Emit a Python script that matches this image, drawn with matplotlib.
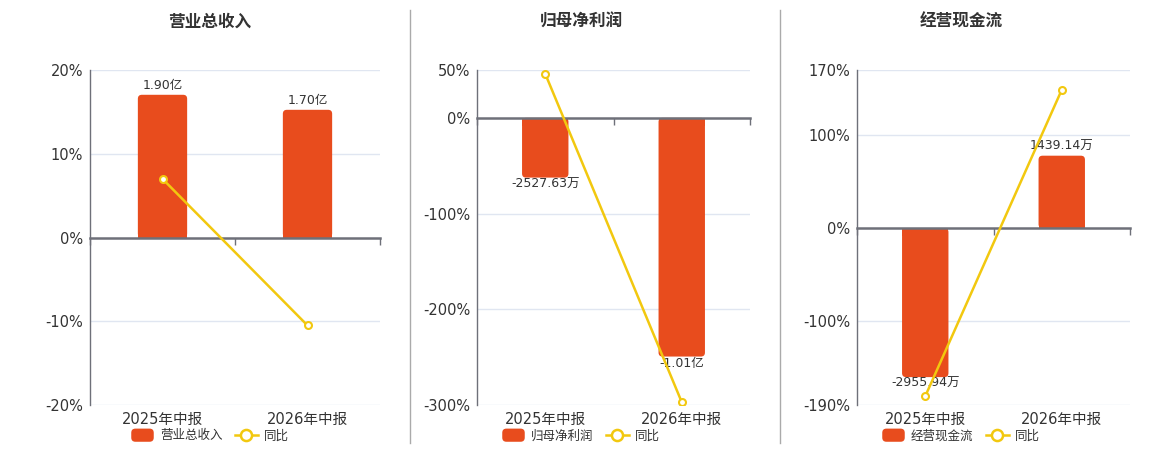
import matplotlib
matplotlib.use("Agg")
import matplotlib.pyplot as plt
from matplotlib.lines import Line2D
from matplotlib.patches import FancyBboxPatch
from matplotlib.legend_handler import HandlerPatch

plt.rcParams['font.family'] = ['DejaVu Sans', 'Noto Sans CJK SC']

categories = ["2025年中报", "2026年中报"]

titles = ["营业总收入", "归母净利润", "经营现金流"]

# bar values in 亿
revenue = [1.90, 1.70]
net_profit = [-0.252763, -1.01]
cash_flow = [-0.295594, 0.143914]

# bar labels as printed
revenue_labels = ["1.90亿", "1.70亿"]
net_profit_labels = ["-2527.63万", "-1.01亿"]
cash_flow_labels = ["-2955.94万", "1439.14万"]

# 同比 (%)
revenue_yoy = [7.0, -10.5]
net_profit_yoy = [46.0, -297.0]
cash_flow_yoy = [-180.6, 148.7]

# percent axis ticks
revenue_ticks = [-20, -10, 0, 10, 20]
net_profit_ticks = [-300, -200, -100, 0, 50]
cash_flow_ticks = [-190, -100, 0, 100, 170]

BAR_COLOR = "#e84c1d"
LINE_COLOR = "#f2c80f"
AXIS_COLOR = "#6e7079"
GRID_COLOR = "#e0e6f1"
TEXT_COLOR = "#333333"

panels = [
    dict(title=titles[0], bars=revenue, labels=revenue_labels, yoy=revenue_yoy,
         ticks=revenue_ticks, bar_top=2.23, rect=[90, 380], title_x=210),
    dict(title=titles[1], bars=net_profit, labels=net_profit_labels, yoy=net_profit_yoy,
         ticks=net_profit_ticks, bar_top=0.2025, rect=[477, 750], title_x=581),
    dict(title=titles[2], bars=cash_flow, labels=cash_flow_labels, yoy=cash_flow_yoy,
         ticks=cash_flow_ticks, bar_top=0.314, rect=[857, 1130], title_x=961),
]

W, H = 1160, 450
fig = plt.figure(figsize=(W / 100, H / 100), dpi=100)


class RoundRectHandler(HandlerPatch):
    def create_artists(self, legend, orig_handle, xdescent, ydescent, width, height, fontsize, trans):
        p = FancyBboxPatch((-xdescent, -ydescent - 1), width, height + 2,
                           boxstyle="round,pad=0,rounding_size=3",
                           fc=BAR_COLOR, ec="none", transform=trans)
        return [p]


for p in panels:
    left, right = p["rect"]
    ax = fig.add_axes([left / W, 45 / H, (right - left) / W, 335 / H])
    ymin, ymax = p["ticks"][0], p["ticks"][-1]
    x = list(range(len(categories)))

    # percent axis: grid, left spine, tick labels
    ax.set_xlim(-0.5, len(categories) - 0.5)
    ax.set_ylim(ymin, ymax)
    ax.set_yticks(p["ticks"])
    ax.set_yticklabels([f"{t}%" for t in p["ticks"]])
    ax.set_xticks(x)
    ax.set_xticklabels(categories)
    ax.set_xticks([i - 0.5 for i in range(len(categories) + 1)], minor=True)
    ax.tick_params(axis="x", which="both", length=0, labelsize=10.5, colors=TEXT_COLOR, pad=5)
    ax.tick_params(axis="y", length=0, labelsize=10.5, colors=TEXT_COLOR, pad=5)
    for t in p["ticks"]:
        if t != 0:
            ax.axhline(t, color=GRID_COLOR, lw=1, zorder=0)
    for s in ["top", "right", "bottom"]:
        ax.spines[s].set_visible(False)
    ax.spines["left"].set_color(AXIS_COLOR)
    ax.spines["left"].set_linewidth(1)

    # bar axis, zero aligned with percent axis
    axb = ax.twinx()
    axb.set_ylim(p["bar_top"] * ymin / ymax, p["bar_top"])
    axb.axis("off")
    bars = axb.bar(x, p["bars"], width=0.34, color=BAR_COLOR, zorder=2)
    for b in bars:
        b.set_visible(False)
        bx, by = b.get_x(), b.get_y()
        bw, bh = b.get_width(), b.get_height()
        # round far-end corners only
        r_px = 4
        pts_x = (right - left) / len(categories)
        pts_y = 335 / (p["bar_top"] - p["bar_top"] * ymin / ymax)
        ry = r_px / pts_y
        rx = r_px / pts_x
        y0 = by if bh >= 0 else by + bh
        hh = abs(bh)
        rr = FancyBboxPatch((bx, y0), bw, hh, boxstyle=f"round,pad=0,rounding_size={rx}",
                            mutation_aspect=ry / rx, fc=BAR_COLOR, ec="none", zorder=2)
        axb.add_patch(rr)
        # square the corners at zero
        sq_h = min(hh, 2 * ry)
        sq_y = 0 if bh >= 0 else -sq_h
        axb.add_patch(plt.Rectangle((bx, sq_y), bw, sq_h, fc=BAR_COLOR, ec="none", zorder=2))
    for xi, v, lab in zip(x, p["bars"], p["labels"]):
        if v >= 0:
            axb.annotate(lab, (xi, v), xytext=(0, 2), textcoords="offset points",
                         ha="center", va="bottom", fontsize=9, color=TEXT_COLOR, zorder=4)
        else:
            axb.annotate(lab, (xi, v), xytext=(0, 0), textcoords="offset points",
                         ha="center", va="top", fontsize=9, color=TEXT_COLOR, zorder=4)

    # line axis on top, same scale as percent axis
    axl = ax.twinx()
    axl.xaxis.set_visible(True)
    axl.set_ylim(ymin, ymax)
    axl.set_yticks([])
    for s in ["top", "right", "left"]:
        axl.spines[s].set_visible(False)
    axl.spines["bottom"].set_position(("data", 0))
    axl.spines["bottom"].set_color(AXIS_COLOR)
    axl.spines["bottom"].set_linewidth(1.8)
    axl.tick_params(axis="x", which="major", length=0, labelbottom=False)
    axl.tick_params(axis="x", which="minor", length=5, width=1, color=AXIS_COLOR,
                    direction="out", labelbottom=False)
    axl.plot(x, p["yoy"], color=LINE_COLOR, lw=1.8, marker="o", ms=5,
             mfc="white", mec=LINE_COLOR, mew=1.5, zorder=5)

    fig.text(p["title_x"] / W, 1 - 22 / H, p["title"], ha="center", va="center",
             fontsize=12, fontweight="bold", color=TEXT_COLOR)

    handles = [
        plt.Rectangle((0, 0), 1, 1, fc=BAR_COLOR),
        Line2D([0], [0], color=LINE_COLOR, lw=1.8, marker="o", ms=8, mfc="white",
               mec=LINE_COLOR, mew=1.8),
    ]
    fig.legend(handles, [p["title"], "同比"], loc="center",
               bbox_to_anchor=(p["title_x"] / W, 1 - 436 / H), ncol=2, frameon=False,
               fontsize=9, labelcolor=TEXT_COLOR, handlelength=1.8, handleheight=0.9,
               handletextpad=0.5, columnspacing=1.0,
               handler_map={plt.Rectangle: RoundRectHandler()})

# separators between panels
for sx in [410, 780]:
    fig.add_artist(Line2D([sx / W, sx / W], [1 - 10 / H, 1 - 443 / H], color="#aaaaaa", lw=1))

fig.savefig("out.png", dpi=100)
